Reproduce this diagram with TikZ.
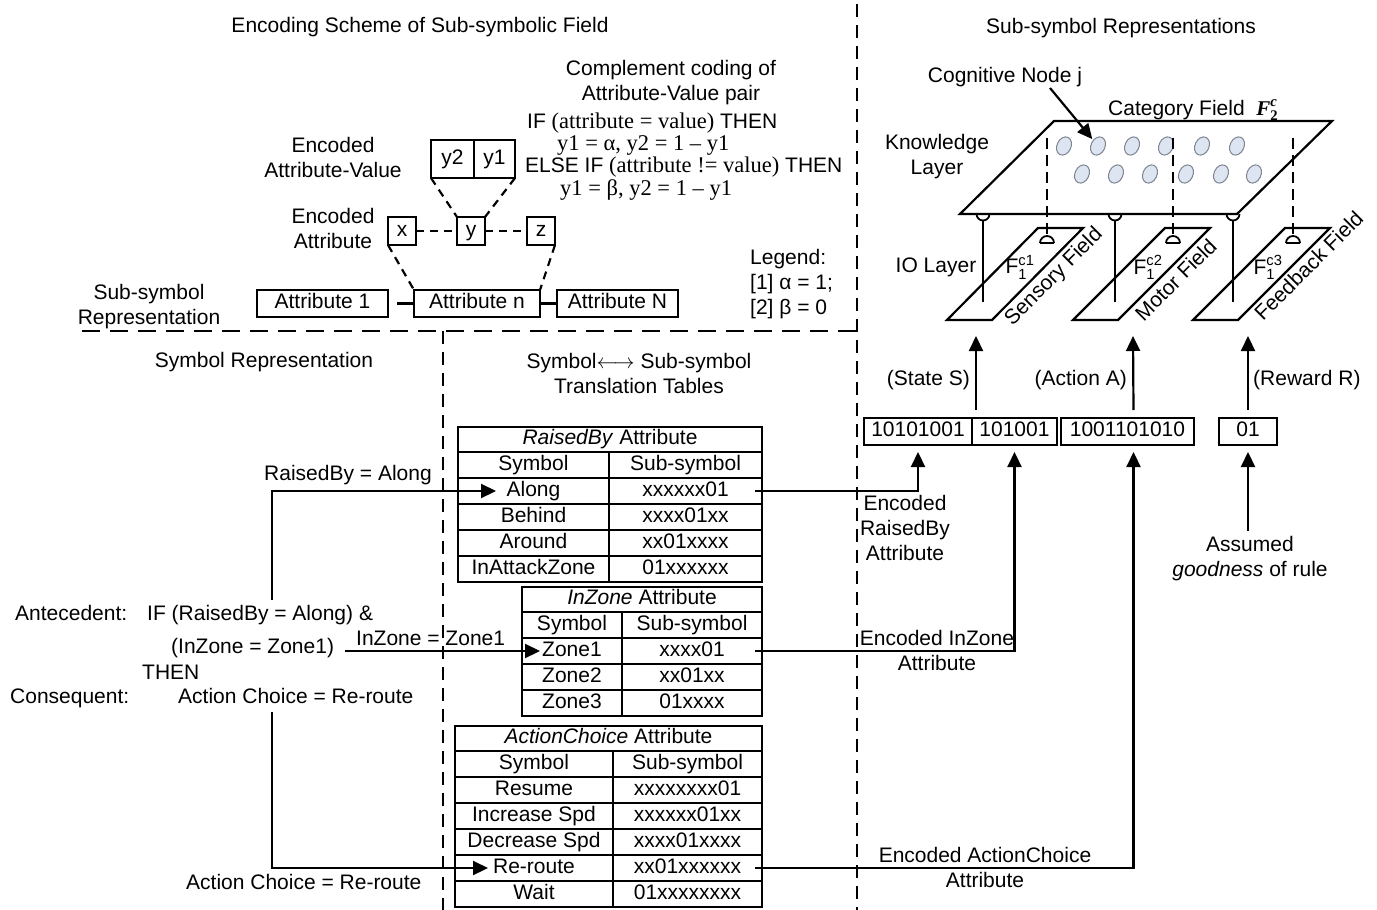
\documentclass[tikz,border=0pt]{standalone}
\usepackage{fontspec}
\usepackage{amsmath}
\setmainfont{Liberation Sans}
\newfontfamily\serifL{Liberation Serif}
\usetikzlibrary{arrows.meta,shapes.geometric}
\definecolor{nodefill}{HTML}{DDE4F2}
\definecolor{nodeline}{HTML}{7F8590}
\newcommand\fsz{\fontsize{21}{25}\selectfont}
\newcommand\fser{\serifL\fontsize{22.5}{25}\selectfont}
\newcommand\tcell[6]{\node[cellbox,minimum width={(#4-#2)*1pt},minimum height={(#5-#3)*1pt}] (#1) at ({(#2+#4)/2},{(#3+#5)/2}) {#6};}
\begin{document}
\begin{tikzpicture}[x=1pt,y=-1pt,font=\fsz,
  lbl/.style={inner sep=0pt},
  ml/.style={inner sep=0pt,align=center,anchor=north},
  cellbox/.style={draw,line width=2.2pt,inner sep=0pt,outer sep=0pt,text height=15pt,text depth=4.4pt},
  arr/.style={line width=2.2pt,-{Triangle[length=15pt,width=14pt]}},
  ln/.style={line width=2.2pt},
  dsh/.style={line width=2.2pt,dash pattern=on 8pt off 6pt},
  divider/.style={line width=2.2pt,dash pattern=on 13pt off 8pt},
  cnode/.style={ellipse,draw=nodeline,fill=nodefill,line width=1pt,minimum width=14pt,minimum height=19pt,inner sep=0pt},
  ]
\useasboundingbox (0,0) rectangle (1377,910);

% ---------- dividers ----------
\coordinate (dv1t) at (857,4); \coordinate (dv1b) at (857,910);
\draw[divider] (dv1t) -- (dv1b);
\coordinate (dh1) at (82,331); \coordinate (dh2) at (857,331);
\draw[divider,dash pattern=on 18pt off 10pt] (dh1) -- (dh2);
\coordinate (dv2t) at (443,331); \coordinate (dv2b) at (443,910);
\draw[divider] (dv2t) -- (dv2b);

% ---------- top-left: encoding scheme ----------
\node[lbl,anchor=base] (title1) at (420,32) {Encoding Scheme of Sub-symbolic Field};
\node[ml] (comp) at (671,60.5) {Complement coding of\\Attribute-Value pair};
\node[lbl,anchor=base west] (if1) at (527,128) {IF {\fser (attribute = value)} THEN};
\node[lbl,anchor=base west] (if2) at (557,150) {\fser y1 = α, y2 = 1 – y1};
\node[lbl,anchor=base west] (if3) at (525,172) {ELSE IF {\fser (attribute != value)} THEN};
\node[lbl,anchor=base west] (if4) at (560,195) {\fser y1 = β, y2 = 1 – y1};

\node[ml] (encav) at (333,137.5) {Encoded\\Attribute-Value};
\node[ml] (enca) at (333,208.5) {Encoded\\Attribute};
\node[ml,align=left,anchor=north west] (legend) at (750,249.5) {Legend:\\{[1]} α = 1;\\{[2]} β = 0};
\node[ml] (subrep) at (149,284.5) {Sub-symbol\\Representation};

\tcell{cy2}{431}{140}{474}{178}{y2}
\tcell{cy1}{474}{140}{515}{178}{y1}
\tcell{bx}{388}{217}{416}{245}{x}
\tcell{by}{457}{217}{485}{245}{y}
\tcell{bz}{527}{217}{555}{245}{z}
\tcell{attr1}{257}{290}{388}{317}{Attribute 1}
\tcell{attrn}{414}{290}{540}{317}{Attribute n}
\tcell{attrN}{557}{290}{678}{317}{Attribute N}

\draw[dsh] (bx.east) -- (by.west);
\draw[dsh] (by.east) -- (bz.west);
\draw[dsh] (cy2.south west) -- (by.north west);
\draw[dsh] (cy1.south east) -- (by.north east);
\draw[dsh] (bx.south west) -- (attrn.north west);
\draw[dsh] (bz.south east) -- (attrn.north east);
\draw[ln] ([xshift=9pt]attr1.east) -- (attrn.west);
\draw[ln] (attrn.east) -- (attrN.west);

% ---------- bottom-left: symbol representation ----------
\node[lbl,anchor=base] (symrep) at (264,367) {Symbol Representation};
\node[ml] (trans) at (639,353.5) {Symbol$\leftarrow\!\rightarrow$ Sub-symbol\\Translation Tables};

\node[lbl,anchor=base] (lrb) at (348,480) {RaisedBy = Along};
\node[lbl,anchor=base west] (ante) at (15,620) {Antecedent:};
\node[lbl,anchor=base west] (rule1) at (147,620) {IF (RaisedBy = Along) \&};
\node[lbl,anchor=base west] (rule2) at (171,653) {(InZone = Zone1)};
\node[lbl,anchor=base west] (then) at (142,679) {THEN};
\node[lbl,anchor=base west] (cons) at (10,703) {Consequent:};
\node[lbl,anchor=base west] (rule3) at (178,703) {Action Choice = Re-route};
\node[lbl,anchor=base west] (liz) at (356,645) {InZone = Zone1};
\node[lbl,anchor=base west] (lac) at (186,889) {Action Choice = Re-route};

% RaisedBy table
\tcell{rbT}{458}{427}{762}{452}{\textit{RaisedBy} Attribute}
\tcell{rbH1}{458}{452}{609}{478}{Symbol}
\tcell{rbH2}{609}{452}{762}{478}{Sub-symbol}
\tcell{rbA1}{458}{478}{609}{504}{Along}
\tcell{rbA2}{609}{478}{762}{504}{xxxxxx01}
\tcell{rbB1}{458}{504}{609}{530}{Behind}
\tcell{rbB2}{609}{504}{762}{530}{xxxx01xx}
\tcell{rbC1}{458}{530}{609}{556}{Around}
\tcell{rbC2}{609}{530}{762}{556}{xx01xxxx}
\tcell{rbD1}{458}{556}{609}{582}{InAttackZone}
\tcell{rbD2}{609}{556}{762}{582}{01xxxxxx}

% InZone table
\tcell{izT}{522}{587}{762}{612}{\textit{InZone} Attribute}
\tcell{izH1}{522}{612}{622}{638}{Symbol}
\tcell{izH2}{622}{612}{762}{638}{Sub-symbol}
\tcell{izA1}{522}{638}{622}{664}{Zone1}
\tcell{izA2}{622}{638}{762}{664}{xxxx01}
\tcell{izB1}{522}{664}{622}{690}{Zone2}
\tcell{izB2}{622}{664}{762}{690}{xx01xx}
\tcell{izC1}{522}{690}{622}{716}{Zone3}
\tcell{izC2}{622}{690}{762}{716}{01xxxx}

% ActionChoice table
\tcell{acT}{455}{726}{762}{751}{\textit{ActionChoice} Attribute}
\tcell{acH1}{455}{751}{613}{777}{Symbol}
\tcell{acH2}{613}{751}{762}{777}{Sub-symbol}
\tcell{acA1}{455}{777}{613}{803}{Resume}
\tcell{acA2}{613}{777}{762}{803}{xxxxxxxx01}
\tcell{acB1}{455}{803}{613}{829}{Increase Spd}
\tcell{acB2}{613}{803}{762}{829}{xxxxxx01xx}
\tcell{acC1}{455}{829}{613}{855}{Decrease Spd}
\tcell{acC2}{613}{829}{762}{855}{xxxx01xxxx}
\tcell{acD1}{455}{855}{613}{881}{Re-route}
\tcell{acD2}{613}{855}{762}{881}{xx01xxxxxx}
\tcell{acE1}{455}{881}{613}{907}{Wait}
\tcell{acE2}{613}{881}{762}{907}{01xxxxxxxx}

% rule arrows into tables
\coordinate (srcrb) at (272,600);
\coordinate (srciz) at (345,651);
\coordinate (srcac) at (272,712);
\draw[arr] (srcrb) |- ([xshift=38pt]rbA1.west);
\draw[arr] (srciz) -- ([xshift=18pt]izA1.west);
\draw[arr] (srcac) |- ([xshift=33pt]acD1.west);

% ---------- right: code vectors ----------
\tcell{codeA}{864}{418}{972}{445}{10101001}
\tcell{codeB}{972}{418}{1057}{445}{101001}
\tcell{codeC}{1061}{418}{1194}{445}{1001101010}
\tcell{codeD}{1219}{418}{1277}{445}{01}

\draw[arr,shorten >=7pt] ([xshift=-7pt]rbA2.east) -| (codeA.south);
\draw[arr,shorten >=7pt] ([xshift=-7pt]izA2.east) -| (codeB.south);
\draw[arr,shorten >=7pt] ([xshift=-7pt]acD2.east) -| ([xshift=6pt]codeC.south);

\node[ml] (encrb) at (905,495.5) {Encoded\\RaisedBy\\Attribute};
\node[ml] (enciz) at (937,630.5) {Encoded InZone\\Attribute};
\node[ml] (encac) at (985,847.5) {Encoded ActionChoice\\Attribute};
\node[ml] (assumed) at (1250,536.5) {Assumed\\\textit{goodness} of rule};
\draw[arr,shorten >=7pt] ([yshift=6pt]assumed.north -| codeD.south) -- (codeD.south);

\node[lbl,anchor=base east] (lstate) at (970,385) {(State S)};
\node[lbl,anchor=base east] (laction) at (1127,385) {(Action A)};
\node[lbl,anchor=base west] (lreward) at (1253,385) {(Reward R)};

\coordinate (in1) at (976,336);
\coordinate (in2) at (1133,336);
\coordinate (in3) at (1248,336);
\draw[arr] ([xshift=4pt,yshift=8pt]codeA.north east) -- (in1);
\draw[arr] ([xshift=6pt,yshift=8pt]codeC.north) -- (in2);
\draw[arr] ([yshift=8pt]codeD.north) -- (in3);

% ---------- top-right: sub-symbol representations ----------
\node[lbl,anchor=base] (title2) at (1121,34) {Sub-symbol Representations};
\node[lbl,anchor=base] (cog) at (1005,82) {Cognitive Node j};
\node[lbl,anchor=base west] (cat) at (1108,115) {Category Field \ $\text{\serifL\bfseries\itshape F}^{\text{\serifL\bfseries\itshape c}}_{\text{\serifL\bfseries 2}}$};
\node[ml] (know) at (937,134.5) {Knowledge\\Layer};
\node[lbl,anchor=base] (io) at (936,272) {IO Layer};

% top plane
\draw[ln] (960,214) -- (1237,214) -- (1332,121) -- (1054,121) -- cycle;
% cognitive nodes
\foreach \i/\x/\y in {1/1064/146,2/1098/146,3/1132/146,4/1166/146,5/1202/146,6/1237/146,
                      7/1082/174,8/1116/174,9/1150/174,10/1186/174,11/1221/174,12/1254/174}
  \node[cnode,rotate=-25] (cn\i) at (\x,\y) {};
\coordinate (cogsrc) at (1050,88);
\draw[arr,shorten >=9pt] (cogsrc) -- (cn2.center);

% IO panels
\draw[ln] (947,320) -- (992,320) -- (1083,228) -- (1038,228) -- cycle;
\draw[ln] (1073,320) -- (1118,320) -- (1210,228) -- (1165,228) -- cycle;
\draw[ln] (1193,320) -- (1238,320) -- (1330,228) -- (1285,228) -- cycle;

% bottom-up links (solid, with cup under top plane)
\foreach \x in {983,1115,1233}{
  \draw[line width=1.8pt] (\x-6.5,214) arc[start angle=180,end angle=360,radius=6.5pt];
  \draw[ln] (\x,220.5) -- (\x,302);
}
% top-down links (dashed, with dome on IO panel)
\foreach \x in {1047,1173,1293}{
  \draw[divider,dash pattern=on 11pt off 6pt] (\x,138) -- (\x,236);
  \draw[line width=1.8pt] (\x-7,243) -- (\x+7,243);
  \draw[line width=1.8pt] (\x-7,243) arc[start angle=180,end angle=0,radius=7pt];
}

\node[lbl] (f1) at (1020,267) {$\text{F}^{\text{c1}}_{\text{1}}$};
\node[lbl] (f2) at (1148,267) {$\text{F}^{\text{c2}}_{\text{1}}$};
\node[lbl] (f3) at (1268,267) {$\text{F}^{\text{c3}}_{\text{1}}$};
\node[lbl,rotate=45,anchor=north] (sens) at (1047,270) {Sensory Field};
\node[lbl,rotate=45,anchor=north] (mot) at (1170,274) {Motor Field};
\node[lbl,rotate=45,anchor=north] (feed) at (1303,260) {Feedback Field};

\end{tikzpicture}
\end{document}
